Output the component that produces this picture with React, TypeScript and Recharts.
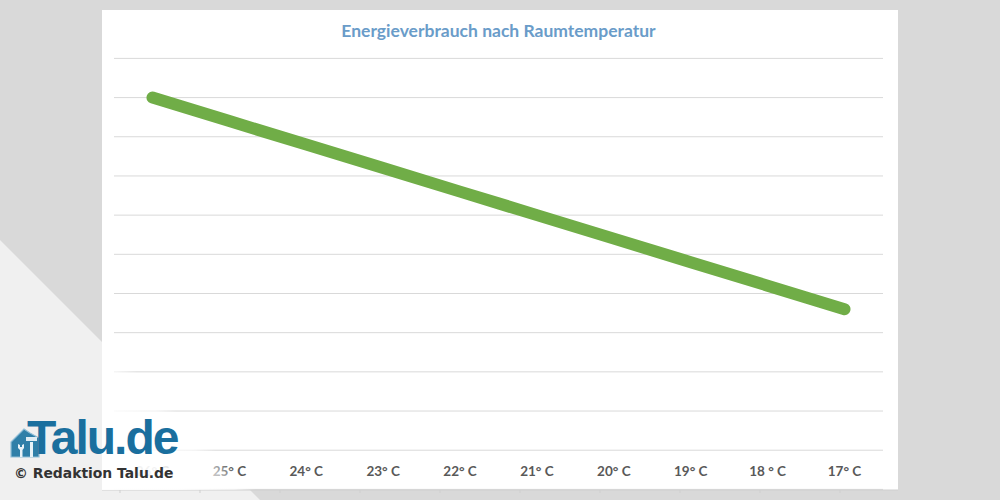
import React from "react";
import { LineChart, Line, XAxis, YAxis, CartesianGrid } from "recharts";

const temperatures = ["26° C", "25° C", "24° C", "23° C", "22° C", "21° C", "20° C", "19° C", "18 ° C", "17° C"];
const consumption = [10, 9.4, 8.8, 8.2, 7.6, 7, 6.4, 5.8, 5.2, 4.6];
const rows = temperatures.map((t, i) => ({ t, v: consumption[i] }));
const title = "Energieverbrauch nach Raumtemperatur";
const credit = "© Redaktion Talu.de";
const brand = "Talu.de";

const abs = (left: number, top: number, width: number, height: number): React.CSSProperties => ({
  position: "absolute", left, top, width, height,
});

function HouseIcon() {
  return (
    <svg style={abs(9, 425, 32, 34)} viewBox="0 0 32 34">
      <path d="M2 32 V17 L15 4 L21 8 L30 13 V32 Z" fill="#2f7fa8" stroke="#8fbdd6" strokeWidth="1.2" />
      <path d="M11 32 V25 L9 23 V19 L11 20 V22 H13 V20 L15 19 V23 L13.5 25 V32 Z" fill="#e8f2f7" />
      <path d="M21 32 V17 H24 V32 Z" fill="#e8f2f7" />
      <path d="M17 12 H28 V16 H17 Z" fill="#dfecf3" />
    </svg>
  );
}

export default function App() {
  return (
    <div style={{ ...abs(0, 0, 1000, 500), background: "#d9d9d9", overflow: "hidden" }}>
      <div style={{ ...abs(0, 240, 260, 260), background: "#f0f0f0", clipPath: "polygon(0 0, 100% 100%, 0 100%)" }} />
      <div style={{ ...abs(102, 10, 796, 480), background: "#fff" }} />
      <div style={{
        ...abs(100.5, 21, 796, 20), textAlign: "center", fontFamily: "Lato", fontWeight: 700,
        fontSize: 17.5, lineHeight: "20px", color: "#6a9cc9",
      }}>{title}</div>

      <div style={abs(0, 0, 1000, 500)}>
        <LineChart width={1000} height={500} data={rows} margin={{ left: 114, right: 117, top: 58.4, bottom: 0.6 }}>
          <CartesianGrid vertical={false} stroke="#d9d9d9" strokeWidth={1} />
          <YAxis hide type="number" domain={[0, 11]} ticks={[0, 1, 2, 3, 4, 5, 6, 7, 8, 9, 10, 11]} />
          <XAxis
            dataKey="t"
            height={10}
            interval={0}
            padding={{ left: 38.5, right: 38.5 }}
            axisLine={false}
            tickLine={false}
            tick={{ fill: "#595959", fontFamily: "Lato", fontWeight: 700, fontSize: 13.5, dy: -31 }}
          />
          <Line
            dataKey="v"
            stroke="#70ad47"
            strokeWidth={12}
            strokeLinecap="round"
            dot={false}
            activeDot={false}
            isAnimationActive={false}
          />
        </LineChart>
      </div>

      <div style={abs(102, 470, 796, 30)}>
        <LineChart width={796} height={30} data={rows} margin={{ left: 0, right: 0, top: 19.4, bottom: 0 }}>
          <XAxis
            dataKey="t"
            scale="point"
            padding={{ left: 18, right: 58 }}
            interval={0}
            height={10}
            stroke="#cfcfcf"
            tickSize={3}
            tickFormatter={() => ""}
          />
        </LineChart>
      </div>

      <div style={{
        ...abs(102, 360, 158, 130),
        background: "linear-gradient(225deg, rgba(255,255,255,0) 95px, rgba(255,255,255,0.6) 110px, rgba(255,255,255,0.92) 150px)",
      }} />

      <HouseIcon />
      <div style={{
        ...abs(27, 411, 170, 54), fontFamily: "Liberation Sans", fontWeight: 700, fontSize: 48,
        lineHeight: "54px", letterSpacing: -2, color: "#1a6f9e",
      }}>{brand}</div>
      <div style={{
        ...abs(14, 463, 180, 20), fontFamily: "DejaVu Sans", fontWeight: 700, fontSize: 13.9,
        lineHeight: "20px", color: "#333", whiteSpace: "nowrap",
      }}>{credit}</div>
    </div>
  );
}
